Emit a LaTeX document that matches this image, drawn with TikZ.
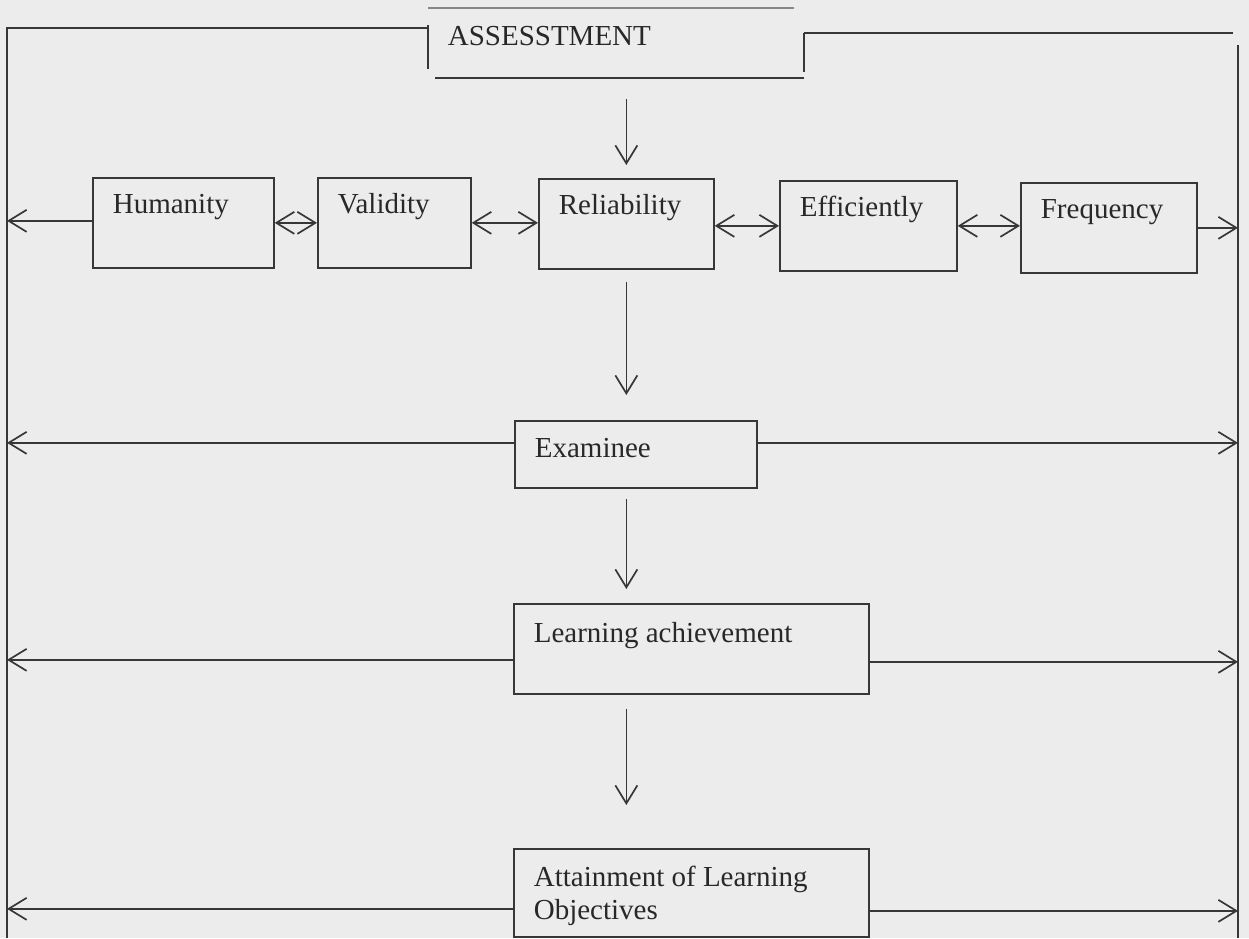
\documentclass[tikz,border=0pt]{standalone}
\usepackage{fontspec}
\setmainfont{Liberation Serif}
\usetikzlibrary{arrows.meta,calc}
\definecolor{bgc}{RGB}{236,236,236}
\definecolor{linec}{RGB}{55,55,55}
\definecolor{textc}{RGB}{40,40,40}
\definecolor{topc}{RGB}{135,135,135}
\newcommand\diagfont{\fontsize{29}{33}\selectfont}
\newcommand\sk{\spaceskip=.25em\relax}
\begin{document}
\begin{tikzpicture}[x=1pt,y=-1pt,
  conn/.style={draw=linec, line width=1.7pt},
  arr/.style={conn, -{Straight Barb[length=18pt,width=22pt]}},
  darr/.style={conn, {Straight Barb[length=18pt,width=22pt]}-{Straight Barb[length=18pt,width=22pt]}},
  box/.style={draw=linec, line width=1.7pt, inner ysep=0pt, inner xsep=20pt, align=left, text=textc, font=\diagfont, anchor=north west},
  rowbox/.style={box, text height=36pt, text depth=54pt}
]
\useasboundingbox (0,0) rectangle (1249,938);
\fill[bgc] (0,0) rectangle (1249,938);

% boxes
\node[rowbox, text width=141pt] (hum) at (92,177) {Humanity};
\node[rowbox, text width=113pt] (val) at (317,177) {Validity};
\node[rowbox, text width=135pt] (rel) at (538,178) {Reliability};
\node[rowbox, text width=137pt] (eff) at (779,180) {Efficiently};
\node[rowbox, text width=136pt] (fre) at (1020,182) {Frequency};
\node[box, text width=202pt, text height=37pt, text depth=30pt] (exam) at (514,420) {Examinee};
\node[box, text width=315pt, text height=39pt, text depth=51pt] (learn) at (513,603) {\sk Learning achievement};
\node[box, text width=315pt, text height=38pt, text depth=50pt] (att) at (513,848) {\sk Attainment of Learning\\Objectives};
\node[box, draw=none, inner xsep=19pt, text width=336pt, text height=37pt, text depth=31pt] (as) at (428,8) {ASSESSTMENT};

% frame
\coordinate (TL) at (7,28);
\coordinate (BL) at (7,938);
\coordinate (TRh) at (1233,33);
\coordinate (TRv) at (1238,45);
\coordinate (BR) at (1238,938);
\draw[conn] (TL -| as.west) -- (TL) -- (BL);
\draw[conn] (TRh -| as.east) -- (TRh);
\draw[conn] (TRv) -- (BR);

% assessment box sides
\draw[conn] ([yshift=-17pt]as.north west) -- ([yshift=9pt]as.south west);
\draw[conn] ([xshift=7pt]as.south west) -- (as.south east);
\draw[conn] ([yshift=-25pt]as.north east) -- ([yshift=6pt]as.south east);
\draw[draw=topc, line width=2.4pt] (as.north west) -- ([xshift=-10pt]as.north east);

% horizontal connectors
\draw[arr] ([yshift=2pt]hum.west) coordinate (h1) -- (h1 -| BL);
\draw[darr] (hum.east) -- (val.west);
\draw[darr] (val.east) -- (val.east -| rel.west);
\draw[darr] (eff.west -| rel.east) -- (eff.west);
\draw[darr] (eff.east) -- (eff.east -| fre.west);
\draw[arr] (fre.east) -- (fre.east -| BR);
\draw[arr] ([yshift=11.5pt]exam.west) coordinate (e1) -- (e1 -| BL);
\draw[arr] ([yshift=11.5pt]exam.east) coordinate (e2) -- (e2 -| BR);
\draw[arr] ([yshift=-11pt]learn.west) coordinate (l1) -- (l1 -| BL);
\draw[arr] ([yshift=-13pt]learn.east) coordinate (l2) -- (l2 -| BR);
\draw[arr] ([yshift=-16pt]att.west) coordinate (a1) -- (a1 -| BL);
\draw[arr] ([yshift=-18pt]att.east) coordinate (a2) -- (a2 -| BR);

% vertical connectors
\draw[arr, shorten <=21pt, shorten >=13pt] (rel.north |- as.south) -- (rel.north);
\draw[arr, shorten <=12pt, shorten >=25pt] (rel.south) -- (rel.south |- exam.north);
\draw[arr, shorten <=10pt, shorten >=14pt] (rel.south |- exam.south) -- (rel.south |- learn.north);
\draw[arr, shorten <=14pt, shorten >=43pt] (rel.south |- learn.south) -- (rel.south |- att.north);
\end{tikzpicture}
\end{document}
